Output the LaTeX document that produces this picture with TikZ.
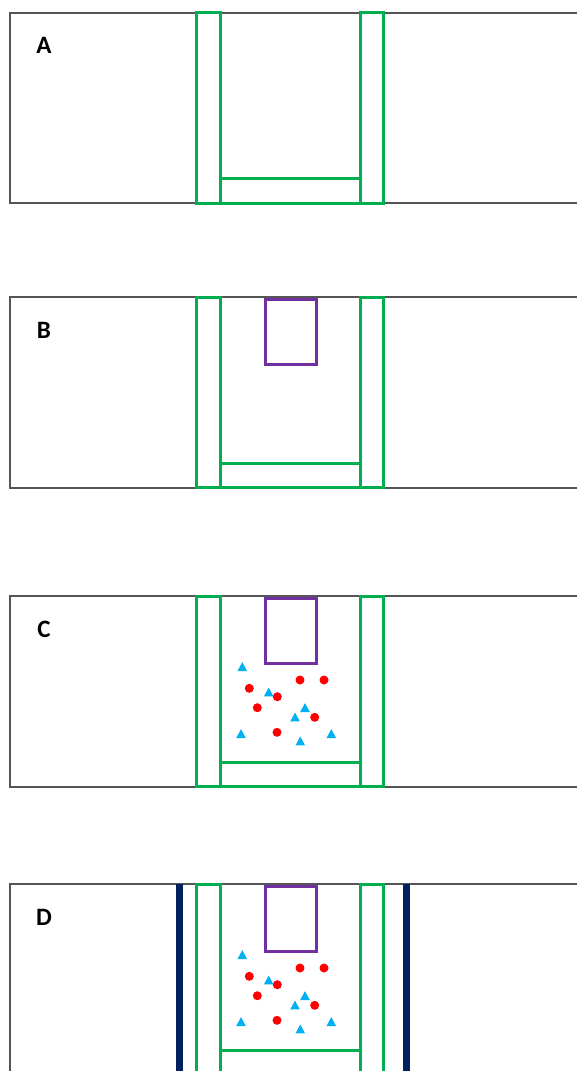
\documentclass[tikz,border=0pt]{standalone}
\usepackage{fontspec}
\setmainfont{Carlito}
\definecolor{frame}{HTML}{555555}
\definecolor{wall}{HTML}{00B050}
\definecolor{lid}{HTML}{7030A0}
\definecolor{rail}{HTML}{002060}
\definecolor{tri}{HTML}{00B0F0}
\definecolor{dot}{HTML}{FF0000}
\tikzset{
  panel/.style={draw=frame, line width=2pt},
  wallbox/.style={draw=wall, line width=3pt},
  lidbox/.style={draw=lid, line width=3pt},
  railbar/.style={fill=rail},
  tag/.style={font=\bfseries\fontsize{25}{27}\selectfont, inner sep=0pt},
  ion/.pic={\fill[tri] (0,-5.2) -- (4.8,3.7) -- (-4.8,3.7) -- cycle;},
  ball/.pic={\fill[dot] (0,0) circle (4.5);}
}
\begin{document}
\begin{tikzpicture}[x=1pt, y=-1pt]
\useasboundingbox (0,0) rectangle (577,1071);
\clip (0,0) rectangle (577,1071);
\fill[white] (0,0) rectangle (577,1071);
% four stages, each a strip with the open-ended chamber
\foreach \t/\lab/\lidon/\fillon/\railon in {12.7/A/0/0/0, 297.3/B/1/0/0, 596/C/1/1/0, 884/D/1/1/1}{
  \begin{scope}[shift={(0,\t)}]
    \draw[panel] (590,0) -- (10,0) -- (10,190.6) -- (590,190.6);
    \node[tag] (tag\lab) at (44,33) {\lab};
    % side walls and floor
    \draw[wallbox] (196.5,0) rectangle (220,190.6);
    \draw[wallbox] (360,0) rectangle (383.5,190.6);
    \draw[wallbox] (220,166) rectangle (360,190.6);
    \ifnum\lidon=1
      \draw[lidbox] (265.5,2.5) rectangle (316,67);
    \fi
    \ifnum\fillon=1
      \foreach \px/\py in {300/84, 324/84, 249.3/92.3, 277.3/100.7, 257.3/111.7, 314.7/121.3, 277/136.3}
        \pic at (\px,\py) {ball};
      \foreach \px/\py in {242.3/71.3, 268.7/96.7, 305/112.3, 295/121.7, 241/138.3, 300.3/145.7, 331.3/138.3}
        \pic at (\px,\py) {ion};
    \fi
    \ifnum\railon=1
      \fill[railbar] (175.5,0) rectangle (182.5,200);
      \fill[railbar] (402.5,0) rectangle (409.5,200);
    \fi
  \end{scope}
}
\end{tikzpicture}
\end{document}
